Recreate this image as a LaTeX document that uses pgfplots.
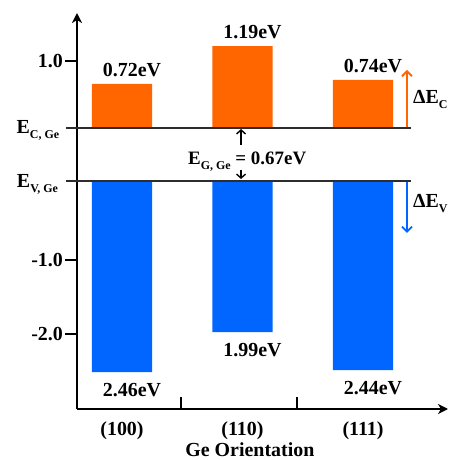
\documentclass[border=0pt]{standalone}
\usepackage{fontspec}
\setmainfont{Liberation Serif}
\usepackage{pgfplots}
\pgfplotsset{compat=1.18}
\usepackage{pgfplotstable}
\usetikzlibrary{arrows.meta}
\definecolor{cOrange}{RGB}{255,102,0}
\definecolor{cBlue}{RGB}{0,102,255}
\definecolor{cLine}{RGB}{45,45,45}
\newcommand\F{\fontsize{20}{24}\selectfont\bfseries}
\newcommand\sub[1]{\raisebox{-5bp}{\fontsize{12}{14}\selectfont\bfseries #1}}

% conduction-band offsets (bar heights above E_C, drawn scale) and labels
\pgfplotstableread{
x top lab
0 0.572 0.72eV
1 1.065 1.19eV
2 0.624 0.74eV
}\cband
% valence-band offsets (bar bottoms below E_V) and labels
\pgfplotstableread{
x bot lab
0 -2.481 2.46eV
1 -1.961 1.99eV
2 -2.455 2.44eV
}\vband

\pgfplotsset{common/.style={
  at={(0,0)}, anchor=south west, scale only axis,
  width=371bp, height=396bp,
  xmin=-0.3734, xmax=2.7054, clip=false}}

\begin{document}
\begin{tikzpicture}
\useasboundingbox (-77bp,-51bp) rectangle (375bp,409bp);
% conduction band bars (baseline = E_C)
\begin{axis}[common, hide axis, ymin=-3.649, ymax=1.494]
\addplot[ybar, bar width=0.5, fill=cOrange, draw=none,
  nodes near coords, point meta=explicit symbolic,
  every node near coord/.append style={font=\F, anchor=south, inner sep=0pt, xshift=10bp, yshift=7bp}]
  table[x=x, y=top, meta=lab] {\cband};
\end{axis}
% main axis: valence band bars (baseline = E_V)
\begin{axis}[common,
  ymin=-2.961, ymax=2.182,
  axis lines=left,
  axis line style={line width=1.8bp, -{Stealth[length=10bp,width=10bp,inset=3bp]}},
  tick align=inside,
  major tick length=12bp,
  tick style={line width=1.5bp, black},
  y tick style={xshift=-12bp},
  xtick={0.49,1.452}, xticklabels={,,},
  extra x ticks={0,1,2},
  extra x tick labels={(100),(110),(111)},
  extra x tick style={major tick length=0pt},
  xticklabel style={font=\F, inner sep=0pt, anchor=north, yshift=-12bp},
  ytick={1.558,-1.026,-1.987},
  yticklabels={1.0,-1.0,-2.0},
  yticklabel style={font=\F, inner sep=0pt, anchor=east, xshift=-14bp},
  xlabel={Ge Orientation},
  xlabel style={font=\F, at={(axis description cs:0.466,0)}, anchor=north, inner sep=0pt, yshift=-33bp},
]
\addplot[ybar, bar width=0.5, fill=cBlue, draw=none,
  nodes near coords, point meta=explicit symbolic,
  every node near coord/.append style={font=\F, anchor=north, inner sep=0pt, xshift=10bp, yshift=-11bp}]
  table[x=x, y=bot, meta=lab] {\vband};
% band edges
\draw[cLine, line width=2.2bp] (axis cs:-0.465,0.688) -- (axis cs:2.398,0.688);
\draw[cLine, line width=2.2bp] (axis cs:-0.465,0) -- (axis cs:2.398,0);
\node[font=\F, anchor=base east, inner sep=0pt] at (axis cs:-0.52,0.623) {E\sub{C, Ge}};
\node[font=\F, anchor=base east, inner sep=0pt] at (axis cs:-0.53,-0.078) {E\sub{V, Ge}};
% band gap
\draw[line width=1.4bp, -{Straight Barb[length=4bp,width=9bp]}] (axis cs:0.988,0.468) -- (axis cs:0.988,0.675);
\draw[line width=1.4bp, -{Straight Barb[length=4bp,width=9bp]}] (axis cs:0.988,0.143) -- (axis cs:0.988,0.026);
\node[font=\fontsize{19}{22}\selectfont\bfseries, anchor=base west, inner sep=0pt] at (axis cs:0.548,0.208) {E\sub{G, Ge} = 0.67eV};
% offsets
\draw[cOrange, line width=1.8bp, -{Straight Barb[length=5bp,width=10bp]}] (axis cs:2.365,0.70) -- (axis cs:2.365,1.442);
\draw[cBlue, line width=1.8bp, -{Straight Barb[length=5bp,width=10bp]}] (axis cs:2.365,-0.01) -- (axis cs:2.365,-0.675);
\node[font=\F, anchor=base west, inner sep=0pt] at (axis cs:2.415,1.013) {ΔE\sub{C}};
\node[font=\F, anchor=base west, inner sep=0pt] at (axis cs:2.415,-0.338) {ΔE\sub{V}};
\end{axis}
\end{tikzpicture}
\end{document}
